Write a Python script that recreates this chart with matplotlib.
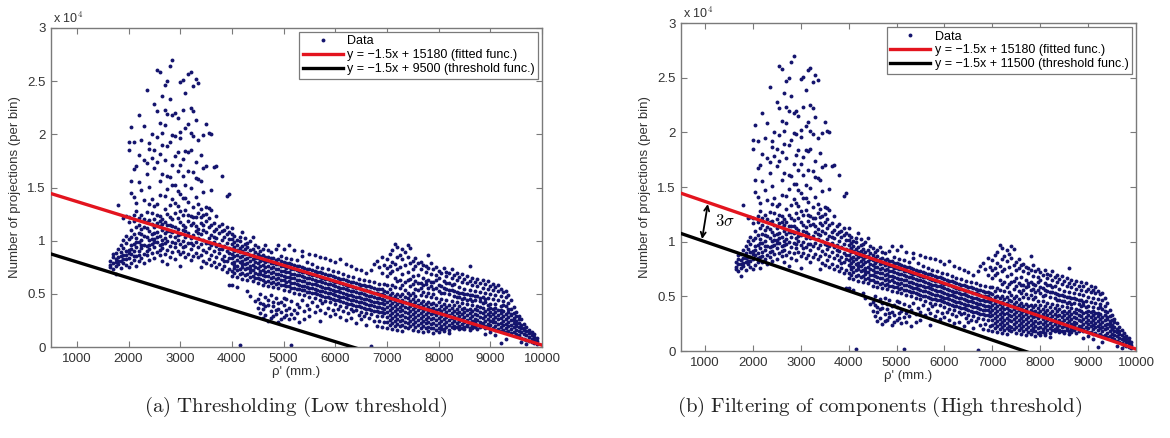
import matplotlib
matplotlib.use("Agg")
import matplotlib.pyplot as plt
from matplotlib.ticker import FuncFormatter, MultipleLocator

plt.rcParams["font.family"] = ["Liberation Sans", "DejaVu Sans"]
plt.rcParams["mathtext.fontset"] = "cm"

# Projection counts per bin, keyed by rho' (mm.)
rise = {
    1650: [7720, 8130, 7480],
    1700: [7310, 7940, 8420, 8760],
    1750: [6890, 7620, 8830, 8290, 7950],
    1800: [7810, 8470, 9210, 13380, 8050],
    1850: [7440, 8110, 8940, 9570, 8520],
    1900: [7930, 8640, 9330, 12120, 8240, 10030],
    1950: [8270, 9020, 9810, 12290, 7690, 8610, 10420],
    2000: [7530, 8390, 9110, 10190, 11740, 12210, 18480, 19310, 8830],
    2050: [7890, 8780, 9560, 10380, 11020, 14520, 20690, 15630, 9230],
    2100: [8180, 8990, 9710, 10640, 11830, 16710, 14090, 19240, 8520, 12390],
    2150: [7630, 8560, 9420, 10270, 11290, 12810, 13570, 17040, 9910],
    2200: [8120, 9060, 9880, 10720, 11490, 15530, 21810, 18030, 8650, 12140],
    2250: [8390, 9280, 10090, 11080, 12410, 19460, 14720, 9630, 10610],
    2300: [7920, 8790, 9590, 10480, 11330, 13820, 20830, 17610, 12040],
    2350: [8610, 9470, 10310, 11190, 12690, 17330, 16240, 24190, 9020, 11780],
    2400: [8220, 9180, 10020, 10870, 11910, 13410, 18660, 19230, 15090, 9610],
    2450: [8880, 9690, 10590, 11560, 12630, 17790, 20020, 13960, 10140],
}

peak = {
    2500: [8380, 9390, 10180, 11270, 12030, 16880, 18510, 22810, 13220, 9840, 10730],
    2550: [8960, 9870, 10790, 11690, 13480, 17410, 19720, 22240, 26040, 10320, 12460],
    2600: [8680, 9610, 10420, 11380, 12310, 15630, 18190, 21070, 25820, 14290, 9140, 11820],
    2650: [8110, 9270, 10060, 10980, 12080, 16310, 20110, 23580, 18960, 9710, 11530],
    2700: [8790, 9760, 10680, 11790, 12970, 17630, 20880, 22290, 24680, 10210, 14170],
    2750: [7820, 9090, 9980, 10870, 12480, 14830, 18870, 21930, 24980, 11460, 16120],
    2800: [8470, 9480, 10460, 11470, 12190, 16020, 19290, 23320, 26420, 13370, 10920],
    2850: [8930, 9880, 10830, 12010, 13880, 17110, 21780, 26990, 15240, 11390, 19910],
    2900: [8290, 9410, 10310, 11240, 12610, 15280, 19860, 21990, 17930, 9820, 13560],
    2950: [9070, 10080, 11090, 12130, 13290, 18370, 21520, 16590, 10560, 14710],
    3000: [7620, 8710, 9690, 10620, 11790, 14410, 19610, 24890, 20190, 12830, 17080],
    3050: [8980, 9970, 10980, 12420, 16090, 17720, 22310, 25080, 11490, 13970, 9420],
    3100: [8510, 9470, 10380, 11310, 12880, 15190, 18410, 20580, 23910, 10890, 14020],
    3150: [8780, 9780, 10690, 11890, 13590, 18330, 20960, 25690, 12440, 16510],
    3200: [8170, 9260, 10290, 11480, 12320, 14930, 18520, 22470, 25880, 9760, 20110],
    3250: [8590, 9580, 10530, 11620, 13130, 16480, 19810, 24590, 12190, 22180],
    3300: [8870, 9860, 10880, 12180, 14080, 17420, 21370, 25210, 11390, 15890],
    3350: [8420, 9390, 10240, 11130, 12620, 15810, 19480, 24790, 10710, 13420],
    3400: [7480, 8690, 9680, 10590, 11690, 13010, 18080, 12270, 15610],
    3450: [8090, 9120, 10090, 10980, 12390, 16790, 19980, 14590, 11510],
    3500: [7870, 8910, 9790, 10780, 11820, 13140, 20980, 16980, 12530],
    3550: [8280, 9290, 10280, 11280, 12110, 20090, 13060, 9740],
    3600: [7690, 8680, 9590, 10510, 11480, 19990, 12890, 14790],
    3650: [7980, 9010, 9920, 10880, 11690, 16890, 10390],
    3700: [7510, 8470, 9480, 10290, 11090, 16990, 12310],
    3750: [7790, 8810, 9690, 10680, 11420, 9230],
    3800: [7290, 8320, 9180, 10090, 10890, 16110, 11590],
    3850: [7580, 8590, 9490, 10390, 10990, 8070],
    3900: [7090, 8110, 8990, 9810, 10590, 14190, 11270],
    3950: [7380, 8390, 9290, 10190, 10810, 14420, 5790, 8810],
}

band = {
    4000: [6650, 7120, 7890, 8340, 8770, 9260, 9710, 10150, 10580, 11230, 5800],
    4050: [6980, 7460, 8010, 8520, 9040, 9390, 9880, 10420, 7720],
    4100: [6540, 7230, 7650, 8190, 8610, 9150, 9560, 10060, 5620],
    4150: [6870, 7380, 7960, 8420, 8890, 9320, 9940, 10380, 200],
    4200: [6420, 6990, 7530, 8080, 8560, 9010, 9470, 10790, 7770],
    4250: [6760, 7290, 7810, 8240, 8710, 9180, 9650, 10210],
    4300: [6280, 6830, 7420, 7940, 8390, 8850, 9370, 9820, 5310],
    4350: [6610, 7060, 7590, 8130, 8580, 9090, 9990, 4820, 7330],
    4400: [6190, 6720, 7250, 7700, 8270, 8690, 9240, 10370],
    4450: [6530, 6940, 7480, 7990, 8410, 8960, 9580, 4310],
    4500: [5980, 6470, 6910, 7390, 7880, 8330, 8790, 9410, 4520, 3690],
    4550: [6350, 6820, 7180, 7640, 8090, 8540, 9010, 5010, 3240, 4180],
    4600: [5860, 6290, 6760, 7270, 7720, 8190, 8680, 9230, 4060, 2710, 3580],
    4650: [6120, 6640, 7090, 7530, 7980, 8420, 9550, 4730, 2980, 3870],
    4700: [5740, 6230, 6710, 7160, 7610, 8060, 8510, 9090, 3920, 2490, 4390],
    4750: [6060, 6520, 6950, 7440, 7860, 8330, 8940, 4880, 3380, 2770],
    4800: [5650, 6140, 6580, 7010, 7490, 7930, 8380, 3810, 2880, 4270],
    4850: [5960, 6410, 6870, 7320, 7770, 8190, 9170, 4620, 3090, 3510],
    4900: [5510, 5990, 6450, 6890, 7340, 7760, 8240, 9630, 3610, 2380, 4130],
    4950: [5870, 6310, 6740, 7180, 7630, 8070, 8560, 4190, 3290, 2640],
    5000: [5370, 5830, 6260, 6690, 7150, 7580, 8020, 9210, 3980, 2790, 4610],
    5050: [5690, 6110, 6570, 7020, 7470, 7920, 8410, 4470, 3010, 3440],
    5100: [5260, 5720, 6180, 6600, 7060, 7480, 7900, 9560, 3680, 2590],
    5150: [5580, 6030, 6450, 6910, 7360, 7790, 8280, 4320, 210, 3150],
    5200: [5120, 5560, 6020, 6470, 6880, 7310, 7720, 9080, 3520, 2690],
    5250: [5470, 5920, 6340, 6770, 7200, 7640, 8170, 4090, 3230],
    5300: [4990, 5430, 5860, 6310, 6740, 7150, 7580, 3760, 2310],
    5350: [5360, 5780, 6210, 6650, 7070, 7490, 8530, 4410, 8990],
    5400: [4880, 5320, 5740, 6170, 6580, 7010, 7430, 3390, 2620],
    5450: [5210, 5650, 6060, 6520, 6950, 7360, 8020, 3970],
    5500: [4720, 5160, 5590, 6040, 6460, 6880, 7290, 8760, 3580, 2880],
    5550: [5070, 5510, 5930, 6370, 6790, 7210, 7790, 4230],
    5600: [4610, 5040, 5470, 5890, 6320, 6730, 7140, 8610, 3310],
    5650: [4970, 5390, 5810, 6240, 6660, 7070, 7560, 3880],
    5700: [4430, 4870, 5300, 5740, 6160, 6580, 7010, 8470, 3490, 2410],
    5750: [4790, 5220, 5640, 6080, 6490, 6920, 7430, 4120],
    5800: [4310, 4740, 5160, 5590, 6020, 6430, 6870, 8380, 3220],
    5850: [4680, 5110, 5530, 5960, 6380, 6790, 7290, 3690],
    5900: [4190, 4620, 5040, 5470, 5900, 6310, 6740, 8190, 2910],
    5950: [4540, 4960, 5390, 5810, 6230, 6660, 7140, 3510],
    6000: [4020, 4450, 4870, 5310, 5740, 6140, 6580, 7980, 3110],
    6050: [4390, 4810, 5240, 5660, 6090, 6500, 7010, 3580],
    6100: [3880, 4310, 4730, 5160, 5590, 6010, 6430, 8270, 2790],
    6150: [4230, 4660, 5080, 5510, 5930, 6360, 6890, 3340],
    6200: [3720, 4150, 4580, 5010, 5440, 5860, 6270, 7810, 2520],
    6250: [4080, 4510, 4930, 5360, 5780, 6210, 6720, 3190],
    6300: [3590, 4020, 4440, 4870, 5300, 5710, 6130, 7620, 2690],
    6350: [3960, 4390, 4810, 5230, 5660, 6080, 6590, 3380],
    6400: [3470, 3890, 4320, 4740, 5170, 5590, 6010, 7380, 2290],
    6450: [3810, 4240, 4670, 5090, 5520, 5940, 6430, 2980],
    6500: [3330, 3760, 4190, 4610, 5040, 5460, 5870, 7210, 2610],
    6550: [3690, 4110, 4540, 4960, 5390, 5810, 6340, 2870],
    6600: [3180, 3610, 4040, 4470, 4890, 5320, 5730, 6990, 2110],
    6650: [3570, 3990, 4420, 4840, 5270, 5690, 6210, 2720],
    6700: [3060, 3490, 3910, 4340, 4770, 5190, 5610, 7280, 100],
    6750: [3420, 3850, 4270, 4700, 5120, 5550, 6080, 2410, 7810],
    6800: [2940, 3370, 3790, 4220, 4640, 5070, 5490, 8090, 1980],
    6850: [3290, 3720, 4140, 4570, 4990, 5420, 5960, 2480, 7490],
    6900: [2870, 3280, 3710, 4130, 4560, 4990, 5410, 8510, 6980, 1890],
    6950: [3170, 3600, 4020, 4450, 4870, 5300, 5880, 2320, 7690],
}

hump = {
    7000: [1820, 2380, 2830, 3290, 3760, 4210, 4690, 5180, 5870, 6720, 8310, 7390],
    7050: [2110, 2560, 3040, 3480, 3950, 4430, 4920, 5460, 6930, 8790, 7610],
    7100: [1710, 2270, 2720, 3190, 3650, 4120, 4580, 5070, 5790, 7130, 9080, 8010],
    7150: [2020, 2490, 2940, 3410, 3870, 4340, 4810, 6480, 9690, 7820, 5620],
    7200: [1640, 2180, 2650, 3110, 3570, 4040, 4520, 5010, 7290, 8420, 9380, 6170],
    7250: [1960, 2410, 2870, 3340, 3800, 4270, 4760, 6290, 8690, 7480, 5530],
    7300: [1530, 2090, 2560, 3030, 3490, 3960, 4430, 4950, 6860, 8230, 9240, 5840],
    7350: [1880, 2330, 2790, 3260, 3720, 4190, 4690, 6110, 7720, 8910, 5390],
    7400: [1790, 2240, 2710, 3170, 3640, 4100, 4580, 5110, 7020, 8510, 9560, 6340],
    7450: [1990, 2460, 2920, 3390, 3850, 4320, 4880, 6420, 7910, 9290, 5710],
    7500: [1610, 2160, 2630, 3090, 3560, 4020, 4490, 5050, 6690, 8130, 7380, 5940],
    7550: [1910, 2380, 2840, 3310, 3770, 4240, 4790, 6230, 7630, 8370, 5460],
    7600: [1520, 2070, 2540, 3000, 3470, 3930, 4410, 5320, 6810, 7890, 6020],
    7650: [1830, 2300, 2760, 3230, 3690, 4160, 4920, 6010, 7320, 7990, 5580],
    7700: [1440, 1990, 2460, 2920, 3390, 3850, 4330, 5190, 6520, 7710, 5870],
    7750: [1750, 2220, 2680, 3150, 3610, 4080, 4810, 5930, 7090, 7580, 6240],
    7800: [1510, 1910, 2380, 2840, 3310, 3770, 4250, 5090, 6310, 8690, 7420, 5560],
    7850: [1820, 2140, 2600, 3070, 3530, 4000, 4720, 5690, 6890, 7910, 6110],
    7900: [1330, 1830, 2300, 2760, 3230, 3690, 4170, 4980, 6080, 7310, 5420],
    7950: [1640, 2060, 2520, 2990, 3450, 3920, 4610, 5590, 6790, 7480, 6290],
    8000: [1420, 1760, 2230, 2690, 3160, 3620, 4190, 5290, 6510, 7190, 5810],
    8050: [1700, 1980, 2450, 2910, 3380, 3840, 4540, 5770, 6930, 5060],
    8100: [1490, 1690, 2150, 2620, 3080, 3550, 4090, 5120, 6190, 7390, 5560],
    8150: [1880, 2370, 2840, 3300, 3770, 4420, 5480, 6670, 7080, 6030],
    8200: [1310, 1610, 2080, 2540, 3010, 3470, 3990, 4980, 6010, 6990, 5370],
    8250: [1910, 2300, 2760, 3230, 3690, 4330, 5390, 6480, 7290, 5820],
    8300: [1790, 2010, 2470, 2940, 3400, 3910, 4820, 5910, 6780, 5290],
    8350: [1880, 2230, 2690, 3160, 3620, 4210, 5210, 6310, 6990, 4670],
    8400: [1720, 1940, 2400, 2870, 3330, 3810, 4690, 5680, 6590, 5090],
    8450: [1810, 2160, 2620, 3090, 3550, 4120, 5110, 6090, 6880, 4560],
    8500: [1690, 1870, 2330, 2800, 3260, 3700, 4590, 5490, 6410, 5020],
    8550: [1930, 2090, 2550, 3020, 3480, 4030, 4980, 5990, 6710, 4430],
    8600: [1590, 1800, 2260, 2730, 3190, 3620, 4480, 5390, 6190, 7610, 4910],
    8650: [1770, 2020, 2480, 2950, 3410, 3930, 4870, 5810, 6480, 4290],
    8700: [1880, 2190, 2410, 2680, 3120, 3540, 4390, 5280, 6120, 4810],
    8750: [1690, 2090, 2560, 3030, 3460, 3840, 4780, 5690, 6390],
    8800: [1860, 2060, 2330, 2810, 3280, 3770, 4290, 5170, 5990, 4640],
    8850: [1990, 2260, 2720, 3190, 3680, 4690, 5580, 6270, 4120],
    8900: [1180, 1810, 2020, 2490, 2960, 3430, 4190, 5090, 5910, 4510],
    8950: [1870, 2180, 2650, 3120, 3590, 4580, 5490, 6180, 3980],
}

tail = {
    9000: [1390, 1720, 2090, 2430, 2870, 3310, 4090, 4980, 5710, 3690],
    9050: [1780, 2310, 2680, 3140, 3590, 4480, 5390, 5930],
    9100: [1090, 1590, 1990, 2390, 2830, 3260, 4010, 4870, 5610, 3640],
    9150: [1690, 2190, 2590, 3040, 3480, 4380, 5290, 5810],
    9200: [380, 1480, 1880, 2290, 2720, 3170, 3890, 4780, 5480, 3460],
    9250: [1590, 2080, 2490, 2930, 3370, 4290, 5190, 3980],
    9300: [790, 1390, 1790, 2180, 2620, 3070, 3810, 4680, 5310],
    9350: [1490, 1980, 2390, 2830, 3280, 4110, 4890, 3620],
    9400: [1280, 1690, 2080, 2510, 2970, 3590, 4390, 3140],
    9450: [1390, 1870, 2290, 2720, 3180, 3790, 2580],
    9500: [1190, 1590, 1980, 2410, 2870, 3290, 2130],
    9550: [1090, 1480, 1870, 2220, 2640, 2910],
    9600: [480, 890, 1390, 1760, 2030, 2590],
    9650: [790, 1190, 1590, 1830, 2210],
    9700: [290, 690, 1090, 1480, 1890],
    9750: [590, 980, 1290, 1610],
    9800: [490, 790, 1090, 1390],
    9850: [390, 690, 910, 1190],
    9900: [290, 590, 810],
}

# Fitted and threshold lines: y = slope * rho + intercept
slope = -1.5
fit_intercept = 15180
low_threshold_intercept = 9500
high_threshold_intercept = 11500

x_ticks = [1000, 2000, 3000, 4000, 5000, 6000, 7000, 8000, 9000, 10000]
captions = ["(a) Thresholding (Low threshold)",
            "(b) Filtering of components (High threshold)"]


def flatten(*groups):
    xs, ys = [], []
    for g in groups:
        for rho, counts in g.items():
            xs.extend([rho] * len(counts))
            ys.extend(counts)
    return xs, ys


rho, counts = flatten(rise, peak, band, hump, tail)

fig = plt.figure(figsize=(11.7, 4.38), dpi=100)
ax_a = fig.add_axes([51 / 1170, 91 / 438, 491 / 1170, 319 / 438])
ax_b = fig.add_axes([681 / 1170, 87 / 438, 455 / 1170, 328 / 438])

spine_grey = "#7a7a7a"
navy = "#14146e"
red = "#e3141e"

for ax, thr in [(ax_a, low_threshold_intercept), (ax_b, high_threshold_intercept)]:
    ax.plot(rho, counts, "o", ms=2.8, mew=0, color=navy, label="Data", zorder=2)
    xl = [500, 10000]
    ax.plot(xl, [slope * x + fit_intercept for x in xl], color=red, lw=2.4,
            label=f"y = \u22121.5x + {fit_intercept} (fitted func.)", zorder=3)
    ax.plot(xl, [slope * x + thr for x in xl], color="black", lw=2.4,
            label=f"y = \u22121.5x + {thr} (threshold func.)", zorder=3)

    ax.set_xlim(500, 10000)
    ax.set_ylim(0, 30000)
    ax.set_xticks(x_ticks)
    ax.yaxis.set_major_locator(MultipleLocator(5000))
    ax.yaxis.set_major_formatter(FuncFormatter(lambda v, p: f"{v / 1e4:g}"))
    ax.tick_params(direction="in", length=4, width=0.8, color=spine_grey,
                   top=True, right=True, labelsize=9.5, labelcolor="#333333", pad=4)
    for s in ax.spines.values():
        s.set_color(spine_grey)
        s.set_linewidth(1.0)
    ax.set_ylabel("Number of projections (per bin)", fontsize=9.5, color="#333333", labelpad=4)
    ax.set_xlabel("\u03c1' (mm.)", fontsize=9.5, color="#333333", labelpad=1)
    ax.text(0.005, 1.005, r"x 10$^4$", transform=ax.transAxes, fontsize=9,
            color="#333333", ha="left", va="bottom")
    leg = ax.legend(loc="upper right", fontsize=9, frameon=True, fancybox=False,
                    edgecolor=spine_grey, framealpha=1, borderpad=0.3,
                    labelspacing=0.15, handlelength=3.2, handletextpad=0.35,
                    borderaxespad=0.3)
    leg.get_frame().set_linewidth(0.9)

# 3-sigma gap between fitted and high threshold line
x_arrow = 1000
ax_b.annotate("", xy=(x_arrow + 60, slope * (x_arrow + 60) + fit_intercept - 150),
              xytext=(x_arrow - 60, slope * (x_arrow - 60) + high_threshold_intercept + 150),
              arrowprops=dict(arrowstyle="<->", color="black", lw=1.3,
                              shrinkA=0, shrinkB=0, mutation_scale=9))
ax_b.text(x_arrow + 200, 11900, r"$3\sigma$", fontsize=12, ha="left", va="center")

fig.text(296 / 1170, 1 - 407 / 438, r"$\mathrm{" + captions[0].replace(" ", r"\ ") + "}$",
         fontsize=15, ha="center", va="center", color="#222222")
fig.text(880 / 1170, 1 - 407 / 438, r"$\mathrm{" + captions[1].replace(" ", r"\ ") + "}$",
         fontsize=15, ha="center", va="center", color="#222222")

fig.savefig("out.png", dpi=100, facecolor="white")
